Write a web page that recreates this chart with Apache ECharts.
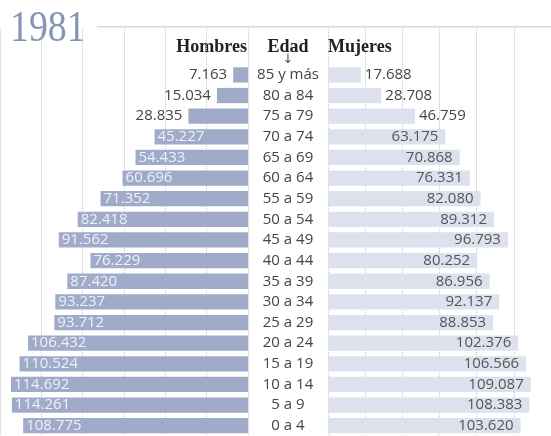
<!DOCTYPE html>
<html>
<head>
<meta charset="utf-8">
<script src="https://cdn.jsdelivr.net/npm/echarts@6/dist/echarts.min.js"></script>
<style>
  html, body { margin: 0; padding: 0; background: #fff; }
  #chart { width: 551px; height: 436px; }
</style>
</head>
<body>
<div id="chart"></div>
<script>
// grupos de edad, de arriba a abajo
const edades = ['85 y más', '80 a 84', '75 a 79', '70 a 74', '65 a 69', '60 a 64', '55 a 59', '50 a 54', '45 a 49',
  '40 a 44', '35 a 39', '30 a 34', '25 a 29', '20 a 24', '15 a 19', '10 a 14', '5 a 9', '0 a 4']
const hombres = [7163, 15034, 28835, 45227, 54433, 60696, 71352, 82418, 91562,
  76229, 87420, 93237, 93712, 106432, 110524, 114692, 114261, 108775]
const mujeres = [17688, 28708, 46759, 63175, 70868, 76331, 82080, 89312, 96793,
  80252, 86956, 92137, 88853, 102376, 106566, 109087, 108383, 103620]
const anio = '1981'

const MAX = 120000
const fmt = v => String(v).replace(/\B(?=(\d{3})+(?!\d))/g, '.')
const sans = '"Open Sans", sans-serif'

// barras cortas llevan la etiqueta fuera
const datosHombres = hombres.map(v => ({
  value: v,
  label: v < 40000
    ? { position: 'left', color: '#444', distance: 6 }
    : { position: 'insideLeft', color: '#eef1f7', distance: 3 }
}))
const datosMujeres = mujeres.map(v => ({
  value: v,
  label: v < 50000
    ? { position: 'right', color: '#444', distance: 4 }
    : { position: 'insideRight', color: '#555', distance: 7 }
}))

const chart = echarts.init(document.getElementById('chart'))

const gridLine = { show: true, lineStyle: { type: 'dotted', color: '#c8c8c8', width: 1 } }

chart.setOption({
  animation: false,
  grid: [
    { left: -2.2, right: 303, top: 64.6, bottom: -3.7 },
    { left: 328, right: -28.5, top: 64.6, bottom: -3.7 },
    // solo para las líneas de fondo
    { left: -2.2, right: 303, top: 28, bottom: -3.7 },
    { left: 328, right: -28.5, top: 28, bottom: -3.7 }
  ],
  xAxis: [
    { gridIndex: 0, type: 'value', inverse: true, min: 0, max: MAX, show: false },
    { gridIndex: 1, type: 'value', min: 0, max: MAX, show: false },
    { gridIndex: 2, type: 'value', inverse: true, min: 0, max: MAX, interval: 20000,
      axisLine: { show: false }, axisTick: { show: false }, axisLabel: { show: false }, splitLine: gridLine },
    { gridIndex: 3, type: 'value', min: 0, max: MAX, interval: 20000,
      axisLine: { show: false }, axisTick: { show: false }, axisLabel: { show: false }, splitLine: gridLine }
  ],
  yAxis: [
    { gridIndex: 0, type: 'category', data: edades, inverse: true, position: 'right',
      axisLine: { show: false }, axisTick: { show: false },
      axisLabel: { align: 'center', margin: 40, fontSize: 15, color: '#444', fontFamily: sans } },
    { gridIndex: 1, type: 'category', data: edades, inverse: true, show: false },
    { gridIndex: 2, type: 'value', show: false },
    { gridIndex: 3, type: 'value', show: false }
  ],
  series: [
    {
      name: 'Hombres', type: 'bar', xAxisIndex: 0, yAxisIndex: 0,
      barWidth: '74%', itemStyle: { color: '#a0abc9' },
      label: { show: true, fontSize: 15, fontFamily: sans, formatter: p => fmt(p.value) },
      data: datosHombres
    },
    {
      name: 'Mujeres', type: 'bar', xAxisIndex: 1, yAxisIndex: 1,
      barWidth: '74%', itemStyle: { color: '#dce1ed' },
      label: { show: true, fontSize: 15, fontFamily: sans, formatter: p => fmt(p.value) },
      data: datosMujeres
    }
  ],
  graphic: [
    { type: 'rect', shape: { x: 97, y: 26, width: 460, height: 1.5 }, style: { fill: '#d3d9e5' } },
    { type: 'text', x: 10, y: 29, scaleX: 0.86,
      style: { text: anio, x: 0, y: 0, verticalAlign: 'middle', fill: '#8695b3',
        font: '44px "Liberation Serif", serif' } },
    { type: 'text', style: { text: 'Hombres', x: 247, y: 47, align: 'right', verticalAlign: 'middle',
      fill: '#222', font: 'bold 18px "Liberation Serif", serif' } },
    { type: 'text', style: { text: 'Edad', x: 288, y: 47, align: 'center', verticalAlign: 'middle',
      fill: '#222', font: 'bold 18px "Liberation Serif", serif' } },
    { type: 'text', style: { text: 'Mujeres', x: 328, y: 47, align: 'left', verticalAlign: 'middle',
      fill: '#222', font: 'bold 18px "Liberation Serif", serif' } },
    { type: 'text', style: { text: '↓', x: 288, y: 60, align: 'center', verticalAlign: 'middle',
      fill: '#555', font: '13px "DejaVu Sans", sans-serif' } }
  ]
})

window.addEventListener('resize', () => chart.resize())
</script>
</body>
</html>
